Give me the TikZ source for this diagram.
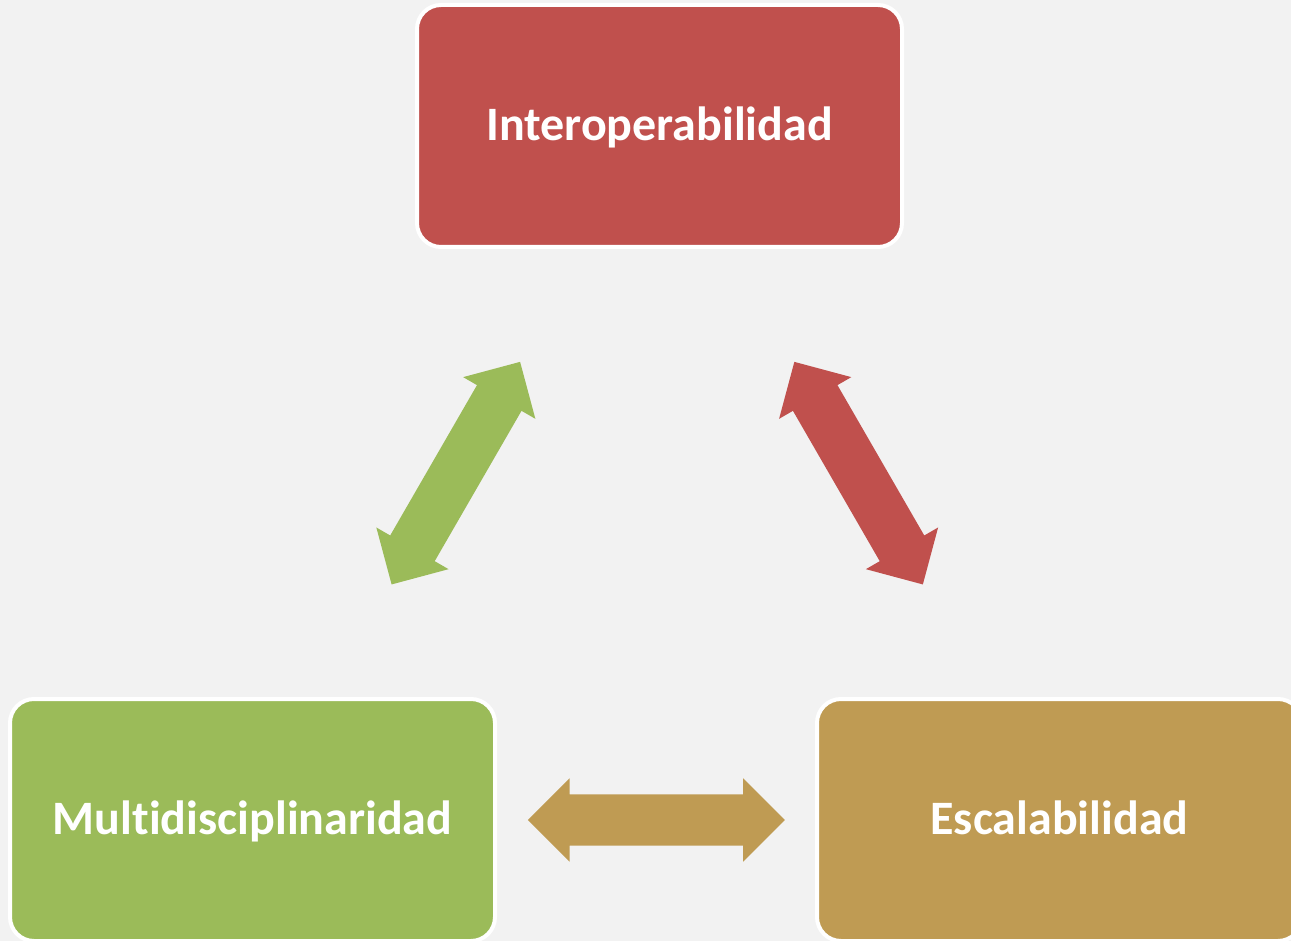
\documentclass[tikz,border=0pt]{standalone}
\usepackage{fontspec}
\setmainfont[Ligatures=NoCommon]{Carlito}
\definecolor{bgc}{HTML}{F2F2F2}
\definecolor{redc}{HTML}{C0504D}
\definecolor{greenc}{HTML}{9BBB59}
\definecolor{goldc}{HTML}{BF9B53}
\begin{document}
\begin{tikzpicture}[x=1pt,y=-1pt,
  box/.style={draw=white,line width=4pt,rounded corners=24pt,
    minimum width=485pt,minimum height=242pt,inner sep=0pt,
    text=white,font=\fontsize{48}{58}\selectfont\bfseries,
    text height=31pt,text depth=2pt},
  dblarrow/.pic={\fill[pic actions] (-128.5,0) -- (-86.8,41.7) -- (-86.8,25.7)
     -- (86.8,25.7) -- (86.8,41.7) -- (128.5,0) -- (86.8,-41.7) -- (86.8,-25.7)
     -- (-86.8,-25.7) -- (-86.8,-41.7) -- cycle;}]
\useasboundingbox (0,0) rectangle (1291,941);
\clip (0,0) rectangle (1291,941);
\fill[bgc] (0,0) rectangle (1291,941);
\node[box,fill=redc] (inter) at (659.5,126) {Interoperabilidad};
\node[box,fill=greenc] (multi) at (252.5,820) {Multidisciplinaridad};
\node[box,fill=goldc] (esca) at (1059.5,820) {Escalabilidad};
\pic[fill=greenc,rotate=60] at (455.85,473.15) {dblarrow};
\pic[fill=redc,rotate=-60] at (858.6,473.15) {dblarrow};
\pic[fill=goldc] at (656.35,820) {dblarrow};
\end{tikzpicture}
\end{document}
